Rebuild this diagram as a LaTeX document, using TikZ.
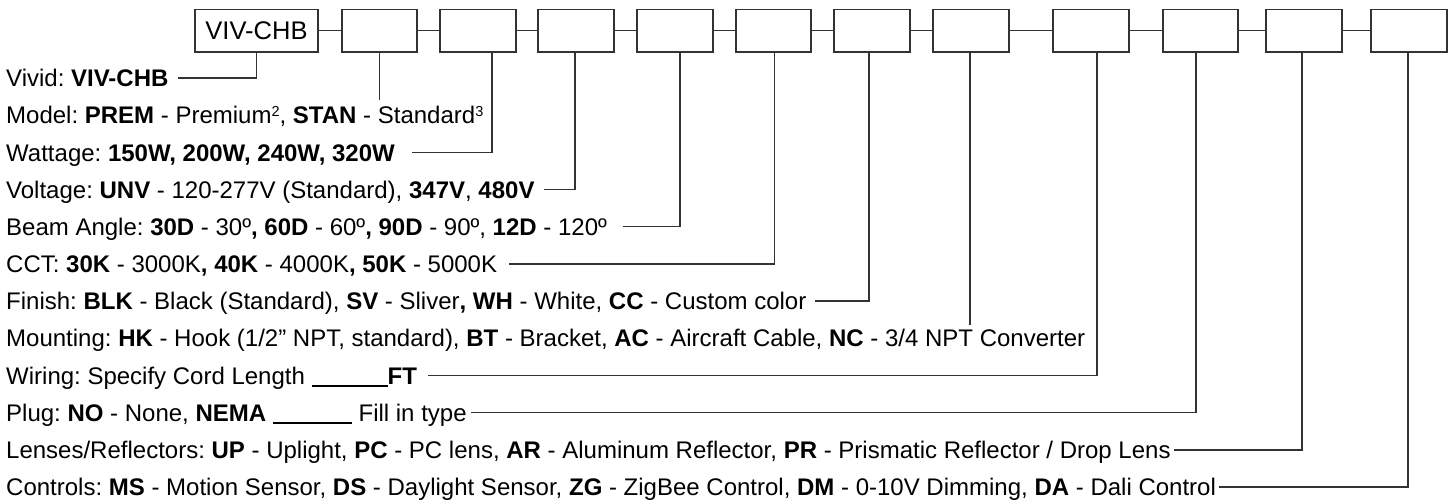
\documentclass[tikz,border=0pt]{standalone}
\usepackage{fontspec}
\setmainfont{Liberation Sans}
\usetikzlibrary{positioning}
\newcommand{\blank}[1]{\rule[-2.5pt]{#1}{1.8pt}}
\newcommand{\supnum}[1]{\raisebox{7pt}{\fontsize{14.5}{14.5}\selectfont #1}}
\frenchspacing
\tikzset{
	codebox/.style = {shape=rectangle, draw=black!80, line width=1.4pt,
		minimum height=42.5pt, inner sep=0pt, font=\fontsize{25.5}{30}\selectfont},
	spec/.style    = {anchor=base west, inner sep=0pt, font=\fontsize{24}{28}\selectfont},
	lead/.style    = {draw=black!80, line width=1.4pt},
}

\begin{document}
\begin{tikzpicture}[x=1pt, y=-1pt]
	\useasboundingbox (0,0) rectangle (1453,501);
	% ordering code boxes
	\node[codebox, minimum width=123pt] (b0) at (256.5,30.75) {VIV-CHB};
	\foreach \n/\l/\r in {1/342/417, 2/440/516, 3/538/614, 4/637/713, 5/736/811,
		6/834/910, 7/933/1009, 8/1053/1129, 9/1163/1238, 10/1266/1342, 11/1371/1447}
		\node[codebox, minimum width={(\r-\l)*1pt}] (b\n) at ({(\l+\r)/2},30.75) {};
	\foreach \a/\b in {0/1, 1/2, 2/3, 3/4, 4/5, 5/6, 6/7, 7/8, 8/9, 9/10, 10/11}
		\draw[lead] (b\a.east) -- (b\b.west);
	
	% option lines
	\node[spec] (t1) at (6,86.6) {Vivid: \textbf{VIV-CHB}};
	\node[spec] (t2) at (6,123.8) {Model: \textbf{PREM} - Premium\supnum{2}, \textbf{STAN} - Standard\supnum{3}};
	\node[spec] (t3) at (6,161.0) {Wattage: \textbf{150W, 200W, 240W, 320W}};
	\node[spec] (t4) at (6,198.1) {Voltage: \textbf{UNV} - 120-277V (Standard), \textbf{347V}, \textbf{480V}};
	\node[spec] (t5) at (6,235.3) {Beam Angle: \textbf{30D} - 30º\textbf{, 60D} - 60º\textbf{, 90D} - 90º, \textbf{12D} - 120º};
	\node[spec] (t6) at (6,272.5) {CCT: \textbf{30K} - 3000K\textbf{, 40K} - 4000K\textbf{, 50K} - 5000K};
	\node[spec] (t7) at (6,309.7) {Finish: \textbf{BLK} - Black (Standard), \textbf{SV} - Sliver\textbf{, WH} - White, \textbf{CC} - Custom color};
	\node[spec] (t8) at (6,346.9) {Mounting: \textbf{HK} - Hook (1/2” NPT, standard), \textbf{BT} - Bracket, \textbf{AC} - Aircraft Cable, \textbf{NC} - 3/4 NPT Converter};
	\node[spec] (t9) at (6,384.1) {Wiring: Specify Cord Length \blank{76pt}\textbf{FT}};
	\node[spec] (t10) at (6,421.2) {Plug: \textbf{NO} - None, \textbf{NEMA} \blank{79pt} Fill in type};
	\node[spec] (t11) at (6,458.4) {Lenses/Reflectors: \textbf{UP} - Uplight, \textbf{PC} - PC lens, \textbf{AR} - Aluminum Reflector, \textbf{PR} - Prismatic Reflector / Drop Lens};
	\node[spec] (t12) at (6,495.6) {Controls: \textbf{MS} - Motion Sensor, \textbf{DS} - Daylight Sensor, \textbf{ZG} - ZigBee Control, \textbf{DM} - 0-10V Dimming, \textbf{DA} - Dali Control};
	
	% leader ends
	\coordinate (e1) at (178,78);
	\coordinate (e2) at (380,100);
	\coordinate (e3) at (412,152.4);
	\coordinate (e4) at (544,189.5);
	\coordinate (e5) at (623,226.7);
	\coordinate (e6) at (509,263.9);
	\coordinate (e7) at (815,301.1);
	\coordinate (e8) at (970,325);
	\coordinate (e9) at (428,375.5);
	\coordinate (e10) at (471,412.6);
	\coordinate (e11) at (1174,449.8);
	\coordinate (e12) at (1219,487);
	
	\foreach \b/\dx/\e in {0/0/e1, 2/14/e3, 3/-1/e4, 4/5/e5, 5/1/e6, 6/-3/e7,
		8/6/e9, 9/-4.5/e10, 10/-2/e11, 11/-1/e12}
		\draw[lead] ([xshift=\dx pt]b\b.south) |- (\e);
	\draw[lead] (b1.south) -- (b1.south |- e2);
	\draw[lead] ([xshift=-1pt]b7.south) -- (e8);
\end{tikzpicture}
\end{document}
